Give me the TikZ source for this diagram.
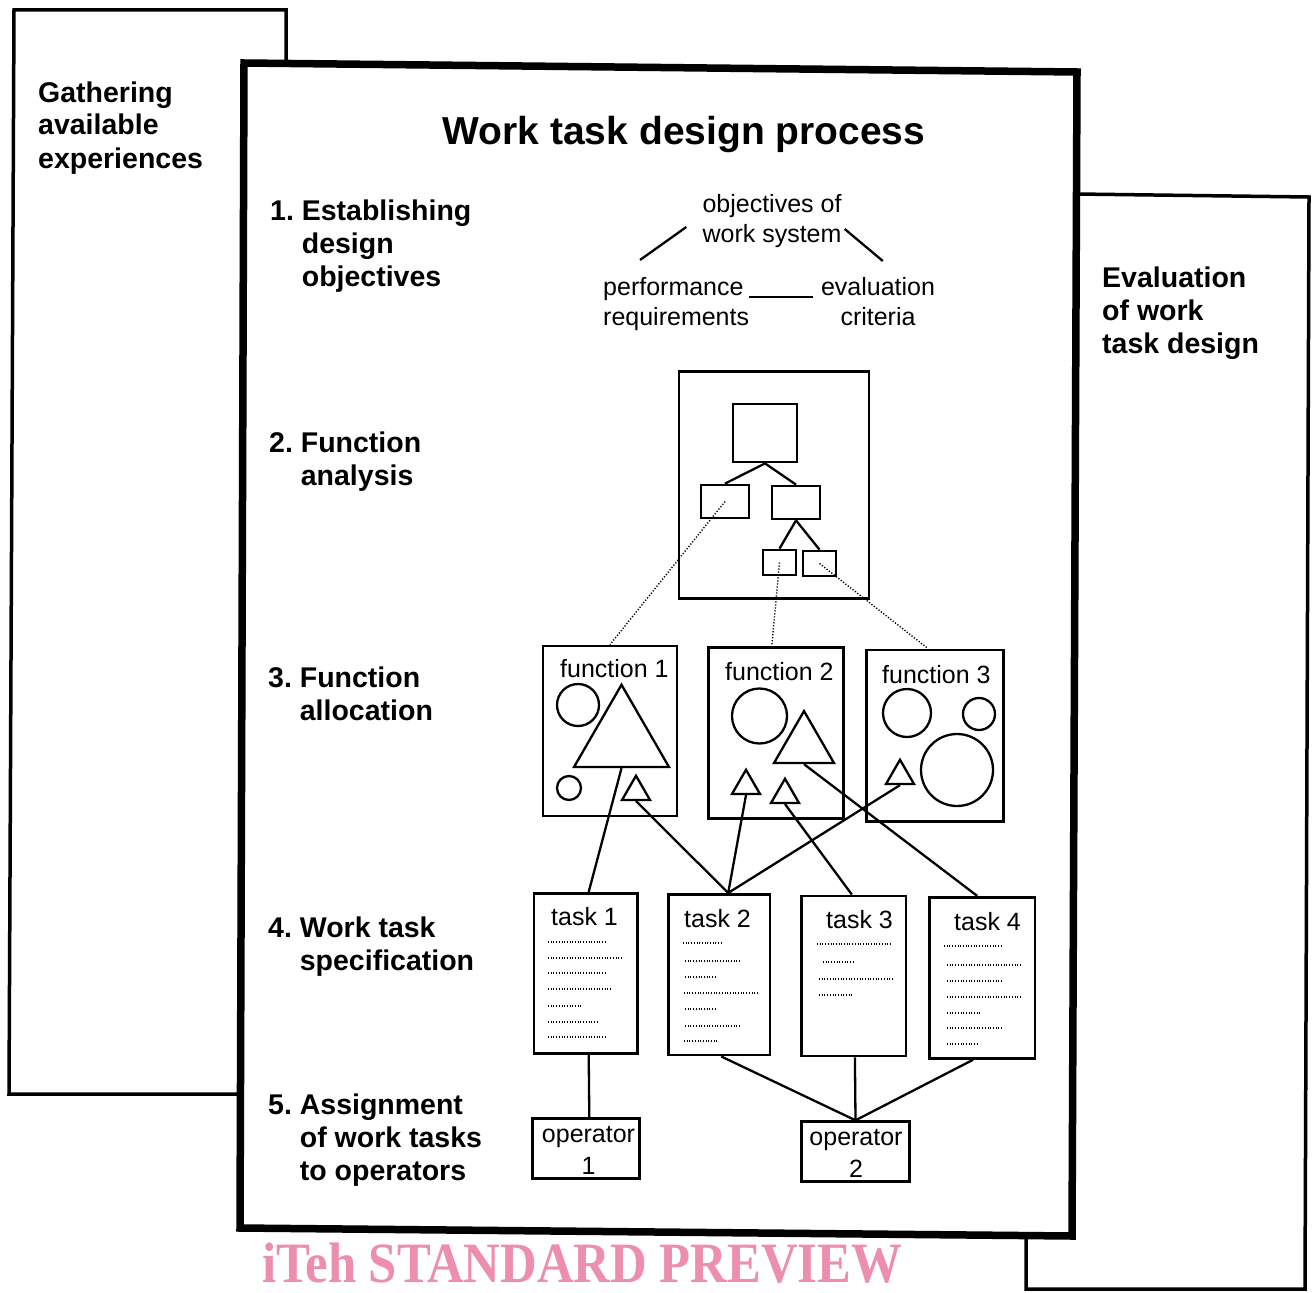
\documentclass[tikz,border=0pt]{standalone}
\usepackage{fontspec}
\setmainfont{Liberation Sans}
\newfontfamily\wmfont{Liberation Serif}
\usetikzlibrary{shapes.geometric}
\definecolor{wmpink}{RGB}{236,142,172}

\begin{document}
\begin{tikzpicture}[x=1pt, y=-1pt,
  lbl/.style={inner sep=0pt, anchor=base west, font=\fontsize{28.5}{33}\selectfont\bfseries},
  txt/.style={inner sep=0pt, font=\fontsize{25}{30}\selectfont},
  box/.style={draw, line width=2.8pt, inner sep=0pt},
  shp/.style={draw, line width=2.3pt, inner sep=0pt, circle},
  tri/.style={draw, line width=2.3pt, inner sep=0pt, regular polygon, regular polygon sides=3},
  link/.style={line width=2.3pt},
  fdots/.style={line width=1.4pt, dash pattern=on 1.2pt off 1.8pt},
  tdots/.style={line width=1.6pt, dash pattern=on 1pt off 1.7pt}]
  \fill [white] (0,0) rectangle (1316,1292);
  \useasboundingbox (0,0) rectangle (1316,1292);

  % the three sheets
  \draw [line width=3.5pt] (241,1094) -- (9,1094) -- (14,10) -- (286,10) -- (286,63);
  \draw [line width=3.5pt] (1076,194) -- (1309,197) -- (1305,1289) -- (1026,1289) -- (1026,1236);
  \draw [line width=7.5pt, line join=miter] (244,63) -- (1077,72) -- (1072,1236) -- (240,1228) -- cycle;

  \node (gath) [lbl, align=left] at (38,168) {Gathering\\available\\experiences};
  \node (evalw) [lbl, align=left] at (1102,353) {Evaluation\\of work\\task design};
  \node (title) [inner sep=0pt, anchor=base, font=\fontsize{39}{44}\selectfont\bfseries] at (684,145) {Work task design process};

  \node (s1) [lbl] at (270,220) {\begin{tabular}[t]{@{}l@{\ }l@{}}1. & Establishing\\ & design\\ & objectives\end{tabular}};
  \node (s2) [lbl] at (269,452) {\begin{tabular}[t]{@{}l@{\ }l@{}}2. & Function\\ & analysis\end{tabular}};
  \node (s3) [lbl] at (268,687) {\begin{tabular}[t]{@{}l@{\ }l@{}}3. & Function\\ & allocation\end{tabular}};
  \node (s4) [lbl] at (268,937) {\begin{tabular}[t]{@{}l@{\ }l@{}}4. & Work task\\ & specification\end{tabular}};
  \node (s5) [lbl] at (268,1114) {\begin{tabular}[t]{@{}l@{\ }l@{}}5. & Assignment\\ & of work tasks\\ & to operators\end{tabular}};

  % 1. objectives
  \node (obj) [txt, align=center, anchor=base] at (772,242) {objectives of\\work system};
  \node (perf) [txt, align=left, anchor=base west] at (603,325) {performance\\requirements};
  \node (crit) [txt, align=center, anchor=base] at (878,325) {evaluation\\criteria};
  \draw [link] ([xshift=37pt,yshift=65pt]perf.base west) -- ([xshift=-16pt,yshift=15pt]obj.base west);
  \draw [link] ([xshift=3pt,yshift=13pt]obj.base east) -- ([xshift=62pt,yshift=64pt]crit.base west);
  \draw [link] ([yshift=28pt]perf.base east) -- ([xshift=-8pt,yshift=28pt]crit.base west);

  % 2. function tree
  \node (fa) [box, minimum width=190pt, minimum height=227pt] at (774,485) {};
  \node (fa0) [box, minimum width=64pt, minimum height=58pt] at (765,433) {};
  \node (fa1) [box, minimum width=48pt, minimum height=33pt] at (725,501.5) {};
  \node (fa2) [box, minimum width=48pt, minimum height=33pt] at (796,502.5) {};
  \node (fa3) [box, minimum width=33pt, minimum height=25pt] at (779.5,562.5) {};
  \node (fa4) [box, minimum width=33pt, minimum height=25pt] at (819.5,563.5) {};
  \draw [link] (fa0.south) -- (fa1.north);
  \draw [link] (fa0.south) -- (fa2.north);
  \draw [link] (fa2.south) -- (fa3.north);
  \draw [link] (fa2.south) -- (fa4.north);

  % 3. functions
  \node (f1) [box, minimum width=134pt, minimum height=170pt] at (610,731) {};
  \node (f2) [box, minimum width=135pt, minimum height=171pt] at (775.8,732.8) {};
  \node (f3) [box, minimum width=136.7pt, minimum height=171.7pt] at (935,735.8) {};
  \node (f1l) [txt, anchor=base west] at (560,677) {function 1};
  \node (f2l) [txt, anchor=base west] at (725,680) {function 2};
  \node (f3l) [txt, anchor=base west] at (882,683) {function 3};
  \draw [fdots] (fa1.center) -- (f1.north);
  \draw [fdots] (fa3.center) -- ([xshift=-4pt]f2.north);
  \draw [fdots] (fa4.center) -- ([xshift=-7pt]f3.north);

  \node (ci11) [shp, minimum size=42pt] at (578,705) {};
  \node (ci12) [shp, minimum size=24pt] at (569,788) {};
  \node (tr11) [tri, minimum size=109.7pt] at (621.5,739.6) {};
  \node (tr12) [tri, minimum size=32.3pt] at (636,791.9) {};
  \node (ci21) [shp, minimum size=55pt] at (759.5,716) {};
  \node (tr21) [tri, minimum size=69.3pt] at (804,745.7) {};
  \node (tr22) [tri, minimum size=32.3pt] at (746,785.9) {};
  \node (tr23) [tri, minimum size=32.3pt] at (785,794.9) {};
  \node (ci31) [shp, minimum size=48pt] at (907,713) {};
  \node (ci32) [shp, minimum size=32pt] at (979,714) {};
  \node (ci33) [shp, minimum size=72pt] at (957,770) {};
  \node (tr31) [tri, minimum size=32.3pt] at (900,775.9) {};

  % 4. tasks
  \node (t1) [box, minimum width=103.3pt, minimum height=160pt] at (585.7,973.3) {};
  \node (t2) [box, minimum width=101.7pt, minimum height=160.7pt] at (719.2,974.7) {};
  \node (t3) [box, minimum width=104.3pt, minimum height=160pt] at (853.9,976) {};
  \node (t4) [box, minimum width=105.7pt, minimum height=161pt] at (982.2,977.8) {};
  \node (t1l) [txt, anchor=base west] at (551,925) {task 1};
  \node (t2l) [txt, anchor=base west] at (684,927) {task 2};
  \node (t3l) [txt, anchor=base west] at (826,928) {task 3};
  \node (t4l) [txt, anchor=base west] at (954,930) {task 4};

  \draw [tdots] (548,942) -- (605,942);
  \draw [tdots] (548,958) -- (622,958);
  \draw [tdots] (548,973) -- (605,973);
  \draw [tdots] (548,989) -- (612,989);
  \draw [tdots] (548,1006) -- (582,1006);
  \draw [tdots] (548,1022) -- (598,1022);
  \draw [tdots] (548,1037) -- (605,1037);

  \draw [tdots] (683,943) -- (722,943);
  \draw [tdots] (685,961) -- (741,961);
  \draw [tdots] (685,977) -- (717,977);
  \draw [tdots] (684,993) -- (757,993);
  \draw [tdots] (685,1009) -- (717,1009);
  \draw [tdots] (685,1026) -- (741,1026);
  \draw [tdots] (684,1041) -- (717,1041);

  \draw [tdots] (817,944) -- (890,944);
  \draw [tdots] (823,962) -- (853,962);
  \draw [tdots] (819,979) -- (893,979);
  \draw [tdots] (819,995) -- (853,995);

  \draw [tdots] (944,946) -- (1002,946);
  \draw [tdots] (947,965) -- (1022,965);
  \draw [tdots] (947,981) -- (1003,981);
  \draw [tdots] (947,997) -- (1020,997);
  \draw [tdots] (947,1013) -- (980,1013);
  \draw [tdots] (947,1028) -- (1003,1028);
  \draw [tdots] (947,1044) -- (979,1044);

  \draw [link] (tr11.south) -- ([xshift=3pt]t1.north);
  \draw [link] (tr12.south) -- ([xshift=9pt]t2.north);
  \draw [link] (tr22.south) -- ([xshift=9pt]t2.north);
  \draw [link] (tr31.south) -- ([xshift=9pt]t2.north);
  \draw [link] (tr23.south) -- ([xshift=-2pt]t3.north);
  \draw [link] (tr21.south) -- ([xshift=-5pt]t4.north);

  % 5. operators
  \node (op1) [box, minimum width=107pt, minimum height=60pt] at (586.3,1148.3) {};
  \node (op2) [box, minimum width=107.6pt, minimum height=60pt] at (855.5,1151.7) {};
  \node (op1l) [txt, align=center, anchor=base, font=\fontsize{25}{32}\selectfont] at (588.5,1174) {operator\\1};
  \node (op2l) [txt, align=center, anchor=base, font=\fontsize{25}{32}\selectfont] at (856,1177) {operator\\2};
  \draw [link] ([xshift=3pt]t1.south) -- ([xshift=3pt]op1.north);
  \draw [link] ([xshift=2pt]t2.south) -- (op2.north);
  \draw [link] ([xshift=1pt]t3.south) -- (op2.north);
  \draw [link] ([xshift=-9pt]t4.south) -- (op2.north);

  \node (wm) [inner sep=0pt, anchor=base west, text=wmpink, font=\wmfont\fontsize{57}{60}\selectfont\bfseries] at (262,1282) {\scalebox{0.89}[1]{iTeh STANDARD PREVIEW}};
\end{tikzpicture}
\end{document}
